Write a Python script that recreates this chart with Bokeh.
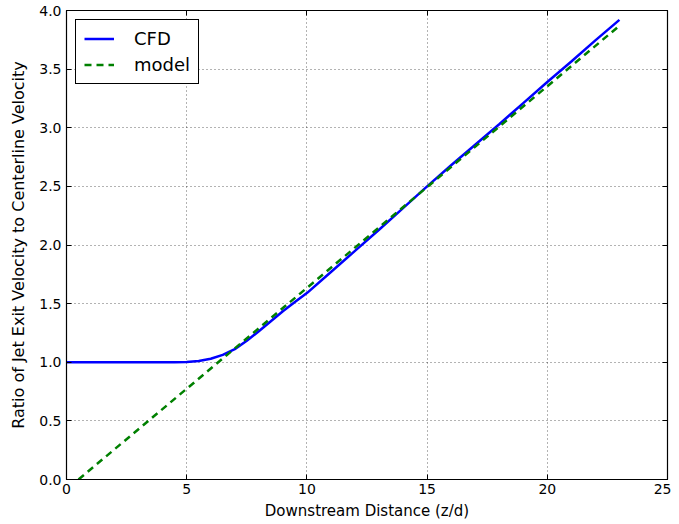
from bokeh.plotting import figure
from bokeh.models import LinearAxis, Range1d, FixedTicker, Legend, LegendItem
from bokeh.embed import file_html
from bokeh.resources import INLINE

# CFD centerline velocity ratio
cfd_x = [0, 1, 2, 3, 4, 4.5, 5, 5.5, 6, 6.5, 7, 7.5, 8, 8.5, 9, 9.5, 10, 11, 12, 13, 14, 15, 16, 17, 18, 19, 20, 21, 22, 23]
cfd_y = [1.0, 1.0, 1.0, 1.0, 1.0, 1.0, 1.002, 1.01, 1.03, 1.063, 1.112, 1.183, 1.265, 1.35, 1.435, 1.513, 1.59, 1.77, 1.95, 2.13, 2.315, 2.5, 2.68, 2.855, 3.03, 3.21, 3.39, 3.565, 3.745, 3.92]

# linear model
model_x = [0.5, 23]
model_y = [0.0, 3.87]

x_ticks = [0, 5, 10, 15, 20, 25]
y_ticks = [0.0, 0.5, 1.0, 1.5, 2.0, 2.5, 3.0, 3.5, 4.0]

FONT = "DejaVu Sans"

p = figure(width=671, height=522, output_backend="svg", toolbar_location=None,
           x_range=Range1d(0, 25), y_range=Range1d(0, 4),
           min_border_left=66, min_border_top=10, min_border_right=4, min_border_bottom=41)
p.background_fill_color = "white"
p.border_fill_color = "white"
p.outline_line_color = "black"
p.outline_line_width = 1.2

for ax in (p.xaxis[0], p.yaxis[0]):
    ax.major_tick_in = 5
    ax.major_tick_out = 0
    ax.minor_tick_line_color = None
    ax.axis_line_color = "black"
    ax.major_tick_line_color = "black"
    ax.major_label_text_font = FONT
    ax.major_label_text_font_size = "14px"
    ax.major_label_text_color = "black"
    ax.axis_label_text_font = FONT
    ax.axis_label_text_font_style = "normal"
    ax.axis_label_text_color = "black"

p.xaxis.axis_label_text_font_size = "15px"
p.yaxis.axis_label_text_font_size = "16px"
p.xaxis.ticker = FixedTicker(ticks=x_ticks)
p.yaxis.ticker = FixedTicker(ticks=y_ticks)
p.yaxis.major_label_overrides = {t: f"{t:.1f}" for t in y_ticks}
p.xaxis.major_label_standoff = 4
p.yaxis.major_label_standoff = 5
p.xaxis.axis_label = "Downstream Distance (z/d)"
p.yaxis.axis_label = "Ratio of Jet Exit Velocity to Centerline Velocity"
p.xaxis.axis_label_standoff = 5
p.yaxis.axis_label_standoff = 8

# mirrored ticks on top and right
top = LinearAxis(ticker=FixedTicker(ticks=x_ticks), major_tick_in=5, major_tick_out=0,
                 minor_tick_line_color=None, major_label_standoff=0, axis_line_color="black",
                 major_label_overrides={t: "" for t in x_ticks})
right = LinearAxis(ticker=FixedTicker(ticks=y_ticks), major_tick_in=5, major_tick_out=0,
                   minor_tick_line_color=None, major_label_standoff=0, axis_line_color="black",
                   major_label_overrides={t: "" for t in y_ticks})
p.add_layout(top, "above")
p.add_layout(right, "right")

p.xgrid.ticker = FixedTicker(ticks=x_ticks)
p.ygrid.ticker = FixedTicker(ticks=y_ticks)
p.grid.grid_line_color = "black"
p.grid.grid_line_alpha = 0.6
p.grid.grid_line_dash = "1 3"
p.grid.grid_line_width = 1

r_cfd = p.line(cfd_x, cfd_y, line_color="#0000ff", line_width=2.5)
r_model = p.line(model_x, model_y, line_color="#008000", line_width=2.5, line_dash="7 5")

legend = Legend(items=[LegendItem(label="CFD", renderers=[r_cfd]),
                       LegendItem(label="model", renderers=[r_model])],
                location="top_left")
legend.label_text_font = FONT
legend.label_text_font_size = "18px"
legend.label_text_color = "black"
legend.label_height = 21
legend.glyph_height = 21
legend.border_line_color = "black"
legend.border_line_width = 1
legend.border_line_alpha = 1
legend.glyph_width = 30
legend.label_standoff = 20
legend.padding = 8
legend.spacing = 5
legend.margin = 9
legend.background_fill_alpha = 1
p.add_layout(legend)

open("out.html", "w").write(file_html(p, INLINE))
